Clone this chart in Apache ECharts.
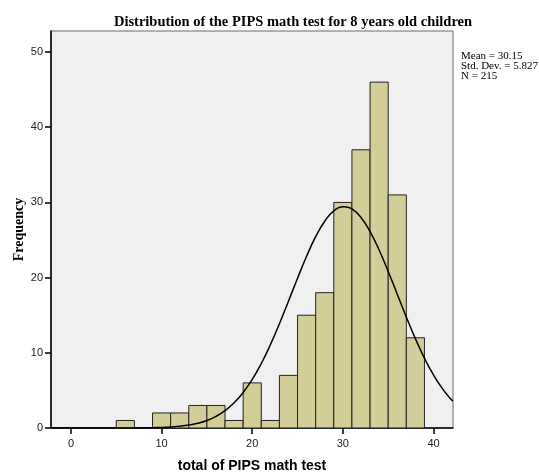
<!DOCTYPE html>
<html>
<head>
<meta charset="utf-8">
<script src="https://cdn.jsdelivr.net/npm/echarts@6/dist/echarts.min.js"></script>
<style>html,body{margin:0;padding:0;background:#fff;}#c{width:539px;height:475px;}</style>
</head>
<body>
<div id="c"></div>
<script>
// Histogram bins (lower edge, upper edge) and frequencies
var binStart = [5, 9, 11, 13, 15, 17, 19, 21, 23, 25, 27, 29, 31, 33, 35, 37];
var binEnd   = [7, 11, 13, 15, 17, 19, 21, 23, 25, 27, 29, 31, 33, 35, 37, 39];
var freq     = [1, 2, 2, 3, 3, 1, 6, 1, 7, 15, 18, 30, 37, 46, 31, 12];

// Normal curve
var curveX = [-2.2, 0, 2, 4, 6, 8, 9, 10, 11, 12, 13, 14, 15, 16, 17, 18, 19, 20, 21, 22, 23, 24, 25, 26, 27, 28, 29, 30, 30.15, 31, 32, 33, 34, 35, 36, 37, 38, 39, 40, 41, 42, 42.15];
var curveY = [0, 0, 0, 0, 0, 0.01, 0.04, 0.07, 0.13, 0.23, 0.39, 0.63, 1.0, 1.54, 2.31, 3.35, 4.72, 6.46, 8.58, 11.07, 13.87, 16.87, 19.92, 22.84, 25.44, 27.5, 28.88, 29.43, 29.44, 29.13, 28.0, 26.12, 23.67, 20.82, 17.79, 14.75, 11.88, 9.29, 7.05, 5.2, 3.72, 3.62];

var xTicks = [0, 10, 20, 30, 40];
var yTicks = [0, 10, 20, 30, 40, 50];

var titleText = 'Distribution of the PIPS math test for 8 years old children';
var xName = 'total of PIPS math test';
var yName = 'Frequency';
var statsLines = ['Mean = 30.15', 'Std. Dev. = 5.827', 'N = 215'];

var barData = binStart.map(function (s, i) { return [s, binEnd[i], freq[i]]; });
var curveData = curveX.map(function (x, i) { return [x, curveY[i]]; });

var chart = echarts.init(document.getElementById('c'), null, { renderer: 'canvas' });
chart.setOption({
  animation: false,
  backgroundColor: '#ffffff',
  title: {
    text: titleText,
    left: 288, top: 10, textAlign: 'center',
    textStyle: { fontFamily: 'Liberation Serif', fontWeight: 'bold', fontSize: 14.5, color: '#000' }
  },
  grid: {
    left: 51, right: 86, top: 31, bottom: 47,
    outerBoundsMode: 'none', containLabel: false,
    show: true, backgroundColor: '#f0f0f0', borderColor: '#6b6b6b', borderWidth: 1
  },
  xAxis: {
    type: 'value', min: -2.2, max: 42.15,
    name: xName, nameLocation: 'middle', nameGap: 31, nameMoveOverlap: false,
    nameTextStyle: { fontFamily: 'Liberation Sans', fontWeight: 'bold', fontSize: 14, color: '#000' },
    axisLine: { show: true, onZero: false, lineStyle: { color: '#000', width: 1.5 } },
    axisTick: { show: true, length: 6, customValues: xTicks, lineStyle: { color: '#000', width: 1.5 } },
    axisLabel: { customValues: xTicks, margin: 10, fontFamily: 'Liberation Sans', fontSize: 11, color: '#222' },
    splitLine: { show: false }
  },
  yAxis: {
    type: 'value', min: 0, max: 52.8,
    name: yName, nameLocation: 'middle', nameGap: 25, nameRotate: 90, nameMoveOverlap: false,
    nameTextStyle: { fontFamily: 'Liberation Serif', fontWeight: 'bold', fontSize: 14, color: '#000' },
    axisLine: { show: true, onZero: false, lineStyle: { color: '#000', width: 1.5 } },
    axisTick: { show: true, length: 6, customValues: yTicks, lineStyle: { color: '#000', width: 1.5 } },
    axisLabel: { customValues: yTicks, margin: 8, fontFamily: 'Liberation Sans', fontSize: 11, color: '#222' },
    splitLine: { show: false }
  },
  graphic: [{
    type: 'text', left: 461, top: 51,
    style: {
      text: statsLines.join('\n'), fontFamily: 'Liberation Serif', fontSize: 11,
      lineHeight: 10, fill: '#000'
    }
  }],
  series: [{
    type: 'custom',
    data: barData,
    encode: { x: [0, 1], y: 2 },
    renderItem: function (params, api) {
      var p0 = api.coord([api.value(0), 0]);
      var p1 = api.coord([api.value(1), api.value(2)]);
      return {
        type: 'rect',
        shape: { x: p0[0], y: p1[1], width: p1[0] - p0[0], height: p0[1] - p1[1] },
        style: { fill: '#d3ce97', stroke: '#222', lineWidth: 1 }
      };
    },
    z: 2
  }, {
    type: 'line',
    data: curveData,
    smooth: true,
    showSymbol: false,
    symbol: 'none',
    clip: true,
    lineStyle: { color: '#000', width: 1.5 },
    z: 3
  }]
});
</script>
</body>
</html>
